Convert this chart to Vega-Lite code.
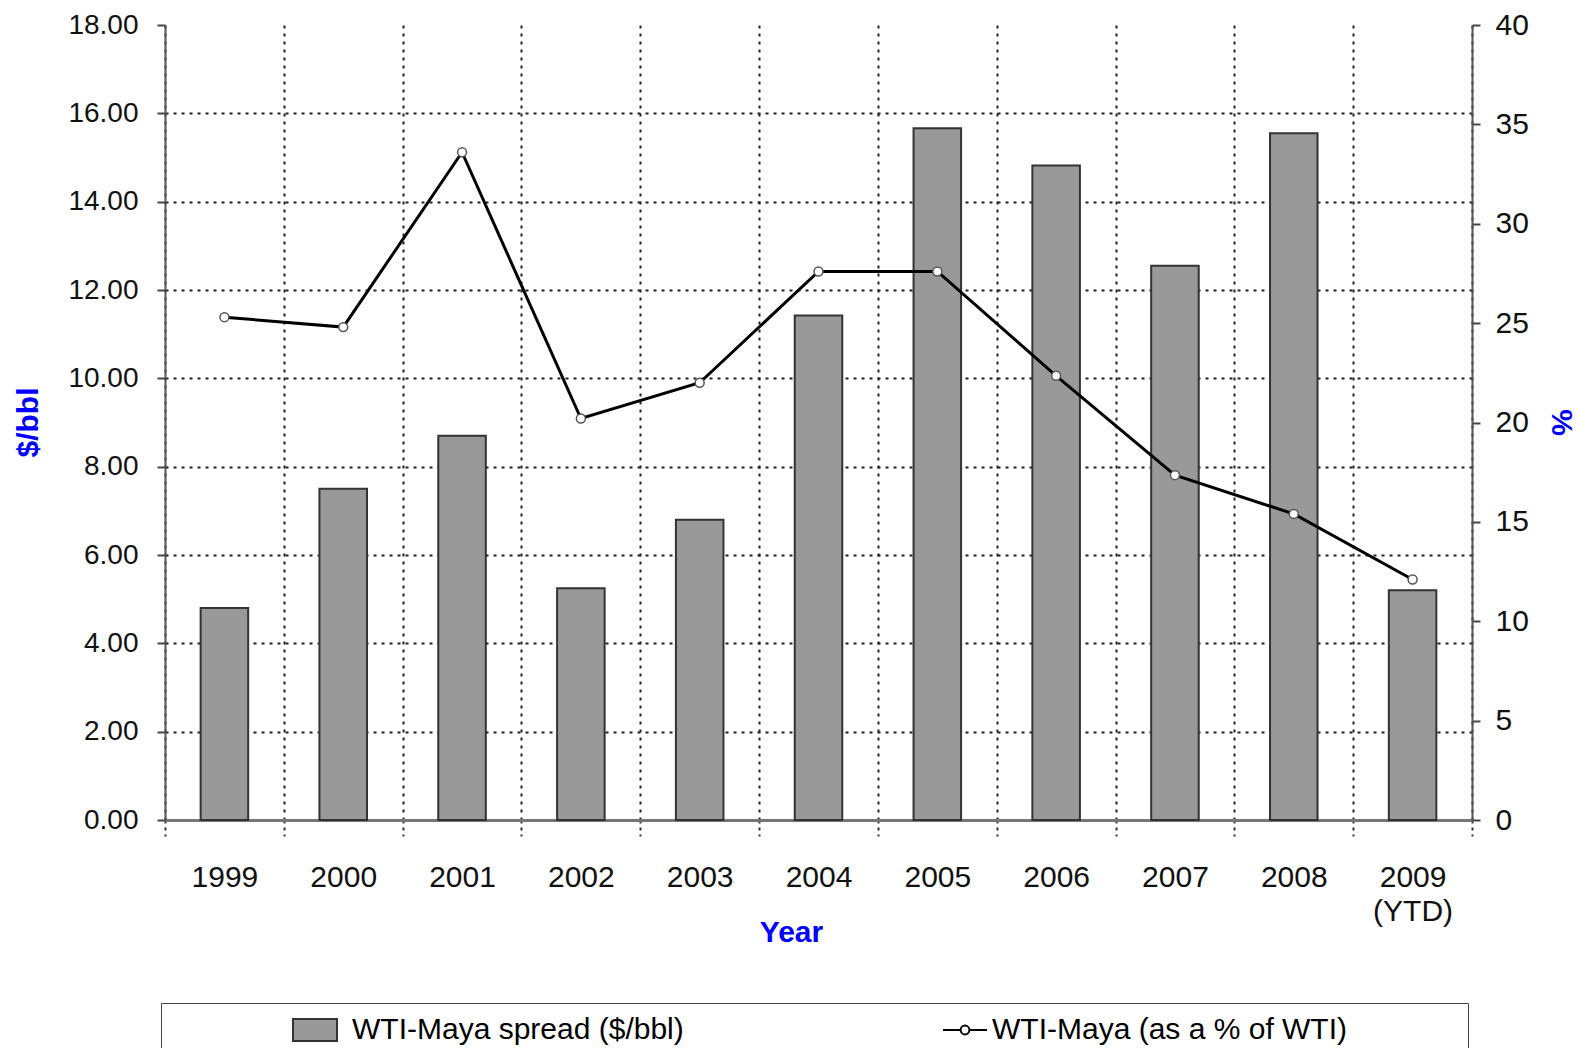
{
  "$schema": "https://vega.github.io/schema/vega-lite/v6.json",
  "width": 1307,
  "height": 795,
  "autosize": {"type": "none"},
  "padding": {"left": 165, "top": 25, "right": 108, "bottom": 228},
  "background": "white",
  "config": {"view": {"stroke": null}, "font": "Liberation Sans"},
  "data": {
    "values": [
      {"year": "1999", "spread": 4.8, "pct": 25.3},
      {"year": "2000", "spread": 7.5, "pct": 24.8},
      {"year": "2001", "spread": 8.7, "pct": 33.6},
      {"year": "2002", "spread": 5.25, "pct": 20.2},
      {"year": "2003", "spread": 6.8, "pct": 22.0},
      {"year": "2004", "spread": 11.42, "pct": 27.6},
      {"year": "2005", "spread": 15.66, "pct": 27.6},
      {"year": "2006", "spread": 14.82, "pct": 22.35},
      {"year": "2007", "spread": 12.55, "pct": 17.35},
      {"year": "2008", "spread": 15.55, "pct": 15.4},
      {"year": "2009 (YTD)", "spread": 5.2, "pct": 12.1}
    ]
  },
  "encoding": {
    "x": {
      "field": "year",
      "type": "nominal",
      "sort": null,
      "scale": {"paddingInner": 0, "paddingOuter": 0},
      "axis": {
        "title": "Year",
        "titleColor": "#0000ff",
        "titleFontSize": 30,
        "titleFontWeight": "bold",
        "titleX": 626,
        "titleY": 112,
        "titleBaseline": "middle",
        "titleAlign": "center",
        "labelAngle": 0,
        "labelFontSize": 30,
        "labelColor": "#111111",
        "labelPadding": 26,
        "labelBaseline": "top",
        "labelLineHeight": 34,
        "labelExpr": "split(datum.label, ' ')",
        "tickBand": "extent",
        "tickSize": 16,
        "tickDash": [3, 4],
        "tickColor": "#333333",
        "tickWidth": 2,
        "grid": true,
        "gridDash": [3, 5],
        "gridColor": "#222222",
        "gridWidth": 2,
        "domainColor": "#777777",
        "domainWidth": 3
      }
    }
  },
  "layer": [
    {
      "mark": {"type": "bar", "stroke": "#333333", "strokeWidth": 2, "width": {"band": 0.4}},
      "encoding": {
        "y": {
          "field": "spread",
          "type": "quantitative",
          "scale": {"domain": [0, 18]},
          "axis": {
            "title": "$/bbl",
            "titleColor": "#0000ff",
            "titleFontSize": 30,
            "titleFontWeight": "bold",
            "titleAngle": -90,
            "titleX": -137,
            "titleY": 397,
            "titleBaseline": "middle",
            "titleAlign": "center",
            "values": [0, 2, 4, 6, 8, 10, 12, 14, 16, 18],
            "format": ".2f",
            "labelFontSize": 28,
            "labelColor": "#111111",
            "labelPadding": 19,
            "tickSize": 8,
            "tickColor": "#444444",
            "tickWidth": 2,
            "domainColor": "#555555",
            "domainWidth": 2,
            "grid": true,
            "gridDash": [3, 5],
            "gridColor": "#222222",
            "gridWidth": 2,
            "gridOpacity": {"condition": {"test": "datum.value == 18 || datum.value == 0", "value": 0}, "value": 1}
          }
        },
        "fill": {
          "datum": "WTI-Maya spread ($/bbl)",
          "type": "nominal",
          "scale": {"range": ["#999999"]},
          "legend": {
            "orient": "none",
            "legendX": -4,
            "legendY": 978,
            "direction": "horizontal",
            "title": "\u00a0",
            "titleOrient": "right",
            "titlePadding": 780,
            "strokeColor": "#444444",
            "padding": 4,
            "symbolType": "M-1,-0.5L1,-0.5L1,0.5L-1,0.5Z",
            "symbolSize": 1936,
            "symbolStrokeColor": "#333333",
            "symbolStrokeWidth": 2,
            "symbolOffset": 127,
            "labelOffset": 14,
            "labelFontSize": 30,
            "labelColor": "#000000",
            "labelLimit": 800
          }
        }
      }
    },
    {
      "mark": {"type": "line", "strokeWidth": 3},
      "encoding": {
        "y": {
          "field": "pct",
          "type": "quantitative",
          "scale": {"domain": [0, 40]},
          "axis": {
            "orient": "right",
            "title": "%",
            "titleColor": "#0000ff",
            "titleFontSize": 30,
            "titleFontWeight": "bold",
            "titleAngle": 90,
            "titleX": 88,
            "titleY": 397,
            "titleBaseline": "middle",
            "titleAlign": "center",
            "values": [0, 5, 10, 15, 20, 25, 30, 35, 40],
            "labelFontSize": 30,
            "labelColor": "#111111",
            "labelPadding": 15,
            "tickSize": 8,
            "tickColor": "#444444",
            "tickWidth": 2,
            "domainColor": "#555555",
            "domainWidth": 2,
            "grid": false
          }
        },
        "stroke": {
          "datum": "WTI-Maya (as a % of WTI)",
          "type": "nominal",
          "scale": {"range": ["#000000"]},
          "legend": {
            "orient": "none",
            "legendX": 773,
            "legendY": 978,
            "direction": "horizontal",
            "title": null,
            "padding": 4,
            "symbolType": "M-1,0L-0.2,0M0.2,0A0.2,0.2 0 1,1 -0.2,0A0.2,0.2 0 1,1 0.2,0M0.2,0L1,0",
            "symbolSize": 1936,
            "symbolFillColor": "#ffffff",
            "symbolStrokeWidth": 2,
            "labelOffset": 4,
            "labelFontSize": 30,
            "labelColor": "#000000",
            "labelLimit": 800
          }
        }
      }
    },
    {
      "mark": {"type": "point", "filled": true, "fill": "#ffffff", "stroke": "#555555", "strokeWidth": 1.5, "size": 80, "opacity": 1},
      "encoding": {
        "y": {
          "field": "pct",
          "type": "quantitative",
          "scale": {"domain": [0, 40]},
          "axis": null
        }
      }
    }
  ],
  "resolve": {"scale": {"y": "independent"}}
}
